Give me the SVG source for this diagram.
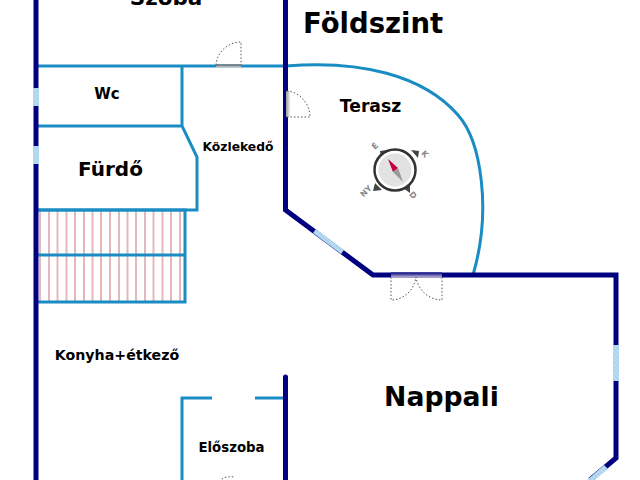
<svg xmlns="http://www.w3.org/2000/svg" width="640" height="480" viewBox="0 0 640 480">
<defs>
<pattern id="win" width="3" height="3" patternUnits="userSpaceOnUse" patternTransform="rotate(45)"><rect width="3" height="3" fill="#a8d4f0"/><rect width="3" height="1" fill="#c4e0f2"/></pattern>
<linearGradient id="door" x1="0" y1="0" x2="0" y2="1"><stop offset="0" stop-color="#555"/><stop offset="1" stop-color="#ddd"/></linearGradient>
<linearGradient id="doorv" x1="0" y1="0" x2="0" y2="1"><stop offset="0" stop-color="#000080"/><stop offset="1" stop-color="#c8c0d8"/></linearGradient>
<linearGradient id="doorh" x1="0" y1="0" x2="1" y2="0"><stop offset="0" stop-color="#999"/><stop offset="1" stop-color="#eee"/></linearGradient>
</defs>
<style>
text{font-family:"DejaVu Sans",sans-serif;font-weight:bold;fill:#000}
.w{fill:none;stroke:#000080;stroke-width:5}
.i{fill:none;stroke:#1a8cc4;stroke-width:3}
.t{stroke:#e4b8b8;stroke-width:2}
.d{fill:none;stroke:#555;stroke-width:1;stroke-dasharray:1.5 2}
.g{fill:url(#win);stroke:none}
.c{font-size:8px;fill:#888;text-anchor:middle}
</style>
<rect width="640" height="480" fill="#fff"/>
<g id="stairs">
<path class="t" d="M40 211V302M49 211V302M57.500 211V302M66.500 211V302M75 211V302M84 211V302M92.500 211V302M101 211V302M110 211V302M119 211V302M127.500 211V302M136 211V302M145 211V302M153.500 211V302M162.500 211V302M171 211V302M180 211V302"/>
<path class="i" d="M37 210H185V302H37M37 255H185"/>
</g>
<g id="connectors">
<path class="i" d="M37 66H286M37 126H182M182 66V126L197 157V210H37"/>
<path class="i" d="M286 66C360 60 423 75 458 115C481 141 492 210 473 275"/>
<path class="i" d="M212 398H182V480M255 398H285"/>
<path class="w" d="M36 0V480"/>
<path class="w" d="M285.500 0V210L373 275H616V458L590 480"/>
<path class="w" stroke-linecap="round" d="M285.500 377V480"/>
</g>
<g id="windows">
<rect class="g" x="33" y="88" width="6" height="18"/>
<rect class="g" x="33" y="146" width="6" height="18"/>
<rect class="g" x="613" y="345" width="6" height="36"/>
<polygon class="g" points="316,229 344,250 341,254 313,233"/>
<polygon class="g" points="604,465 608,469 594,480 587,480"/>
</g>
<g id="doors">
<rect x="216" y="64.500" width="25" height="3" fill="url(#door)"/>
<path class="d" d="M216 65C217 52 228 42 241 42V65"/>
<rect x="286" y="91" width="4" height="26" fill="url(#doorh)"/>
<path class="d" d="M287 91C300 92 310 104 310 117H287"/>
<rect x="391" y="272.500" width="51" height="5" fill="url(#doorv)"/>
<path class="d" d="M391 277V300C403 300 414 291 416 277C418 291 430 300 442 300V277"/>
<path class="d" d="M220 482C221 478 226 476 234 477"/>
</g>
<g id="compass">
<path d="M380 151L387 150 381 157ZM419 151L411 150 418 158ZM373 191L382 190 375 183ZM410 193L403 188 410 183Z" fill="#444"/>
<circle cx="395" cy="170" r="20.500" fill="#fff" stroke="#333" stroke-width="2.500"/>
<circle cx="395" cy="170" r="16.500" fill="#e2e2e2"/>
<path d="M388 159L398 168 393 172Z" fill="#c4003c"/>
<path d="M393 172L398 168 403 182Z" fill="#999"/>
<text class="c" transform="translate(377 148) rotate(-45)">É</text>
<text class="c" transform="translate(423 156) rotate(45)">K</text>
<text class="c" transform="translate(368 193) rotate(-45)">NY</text>
<text class="c" transform="translate(411 197) rotate(45)">D</text>
</g>
<g id="szoba"><text x="166" y="5" font-size="21.500" text-anchor="middle">Szoba</text></g>
<g id="foldszint"><text x="303" y="33" font-size="27.500">Földszint</text></g>
<g id="wc"><text x="107" y="99" font-size="15" text-anchor="middle">Wc</text></g>
<g id="terasz"><text x="370.500" y="112" font-size="17.200" text-anchor="middle">Terasz</text></g>
<g id="kozlekedo"><text x="238" y="151" font-size="12.300" text-anchor="middle">Közlekedő</text></g>
<g id="furdo"><text x="110.500" y="176" font-size="20" text-anchor="middle">Fürdő</text></g>
<g id="konyha"><text x="117" y="360" font-size="14.200" text-anchor="middle">Konyha+étkező</text></g>
<g id="nappali"><text x="441.500" y="406" font-size="26.700" text-anchor="middle">Nappali</text></g>
<g id="eloszoba"><text x="231.500" y="452" font-size="13.300" text-anchor="middle">Előszoba</text></g>
</svg>
